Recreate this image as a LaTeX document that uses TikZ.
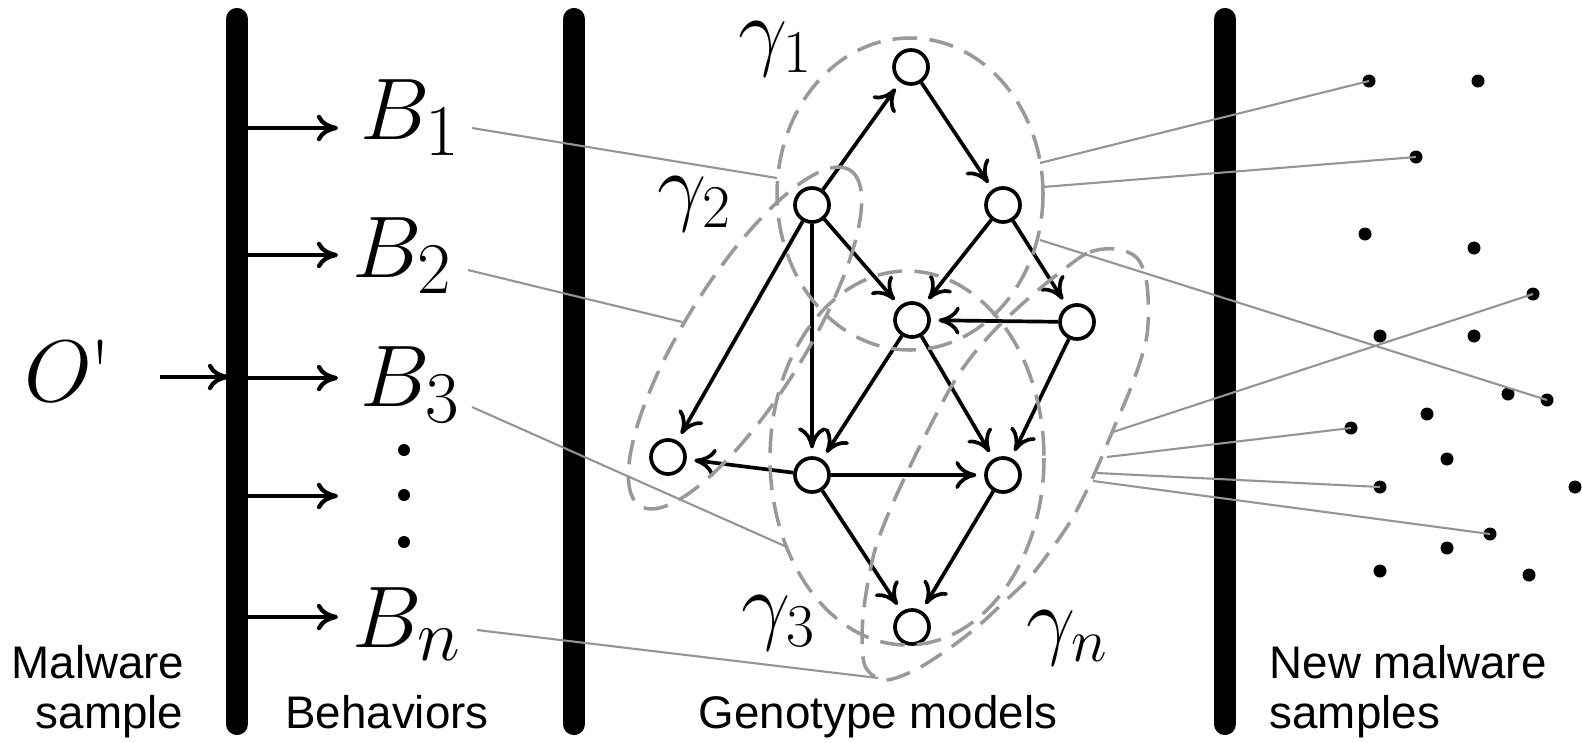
\documentclass[tikz,border=0pt]{standalone}
\usepackage{fontspec}
\newfontfamily\lsans{Liberation Sans}
\usetikzlibrary{arrows.meta}
\DeclareMathSizes{25}{25}{21}{16}
\DeclareMathSizes{24.9}{24.9}{18}{14}
\tikzset{
  vtx/.style={circle, draw, line width=1.05pt, minimum size=0.34cm, inner sep=0pt},
  edge/.style={line width=1.05pt, -{Computer Modern Rightarrow[length=6pt,width=8pt]}, shorten >=2.2pt},
  barline/.style={line width=6.3pt, line cap=round},
  inarrow/.style={line width=1.2pt, -{Computer Modern Rightarrow[length=6pt,width=7.5pt]}},
  glink/.style={draw=black!42, line width=0.6pt},
  group/.style={draw=black!40, line width=1.0pt, dash pattern=on 7pt off 3.5pt},
  sdot/.style={circle, fill, inner sep=0pt, minimum size=0.13cm},
  vdot/.style={circle, fill, inner sep=0pt, minimum size=0.12cm},
  mlab/.style={inner sep=0pt, font=\fontsize{25}{30}\selectfont},
  glab/.style={inner sep=0pt, font=\fontsize{24.9}{30}\selectfont},
  tlab/.style={inner sep=0pt, font=\lsans\fontsize{13}{15}\selectfont},
}
\begin{document}
\begin{tikzpicture}[x=0.01cm,y=-0.01cm]
\useasboundingbox (0,0) rectangle (1582,742);

% bars
\draw[barline] (237,19) -- (237,724);
\draw[barline] (574,19) -- (574,724);
\draw[barline] (1225,19) -- (1225,724);

% left part
\node[mlab, anchor=base west] (O) at (24,401) {$O$\kern-0.8pt\textquotesingle};
\coordinate (oa) at (160,377);
\coordinate (ob) at (229,377);
\draw[inarrow] (oa) -- (ob);

\foreach \i/\y in {1/128,2/255,3/378,4/496,5/617}{
  \coordinate (s\i) at (248,\y);
  \coordinate (t\i) at (338,\y);
  \draw[inarrow] (s\i) -- (t\i);
}
\node[mlab, anchor=base west] (B1) at (360,139) {$B_1$};
\node[mlab, anchor=base west] (B2) at (352,277) {$B_2$};
\node[mlab, anchor=base west] (B3) at (360,406) {$B_3$};
\node[mlab, anchor=base west] (Bn) at (352,647) {$B_n$};
\node[vdot] (v1) at (404,450) {};
\node[vdot] (v2) at (404,495) {};
\node[vdot] (v3) at (404,542) {};

% graph nodes
\node[vtx] (n1) at (911,67) {};
\node[vtx] (n2) at (1003,205) {};
\node[vtx] (n3) at (812,205) {};
\node[vtx] (n4) at (912,320) {};
\node[vtx] (n5) at (1077,322) {};
\node[vtx] (n6) at (668,457) {};
\node[vtx] (n7) at (812,475) {};
\node[vtx] (n8) at (1003,475) {};
\node[vtx] (n9) at (912,627) {};

\draw[edge] (n3) -- (n1);
\draw[edge] (n1) -- (n2);
\draw[edge] (n3) -- (n4);
\draw[edge] (n3) -- (n6);
\draw[edge] (n3) -- (n7);
\draw[edge] (n2) -- (n4);
\draw[edge] (n2) -- (n5);
\draw[edge] (n5) -- (n4);
\draw[edge] (n4) -- (n7);
\draw[edge] (n4) -- (n8);
\draw[edge] (n5) -- (n8);
\draw[edge] (n7) -- (n6);
\draw[edge] (n7) -- (n8);
\draw[edge] (n7) -- (n9);
\draw[edge] (n8) -- (n9);

% genotype groups
\draw[group] (910,194) ellipse (133 and 156);
\draw[group, rotate around={58:(745,338)}] (745,338) ellipse (198 and 60);
\draw[group] (907,458) ellipse (137 and 187);
\draw[group] plot[smooth cycle, tension=0.55] coordinates {
 (1067,267) (1090,252) (1115,249) (1137,258) (1147,285) (1147,335) (1133,382)
 (1113,430) (1093,477) (1073,517) (1053,547) (1030,577) (1003,603) (977,627)
 (947,650) (915,670) (885,680) (866,668) (862,640) (865,600) (875,550)
 (893,503) (923,440) (957,377) (990,335) (1030,297)};

\node[glab, anchor=base west] (G1) at (738,59) {$\gamma_1$};
\node[glab, anchor=base west] (G2) at (657,214) {$\gamma_2$};
\node[glab, anchor=base west] (G3) at (741,633) {$\gamma_3$};
\node[glab, anchor=base west] (Gn) at (1026,648) {$\gamma_n$};

% links from behaviours to models
\coordinate (b1e) at (472,128);
\coordinate (b2e) at (468,270);
\coordinate (b3e) at (472,407);
\coordinate (bne) at (477,630);
\coordinate (g1a) at (777,178);
\coordinate (g2a) at (682,322);
\coordinate (g3a) at (787,547);
\coordinate (gna) at (878,678);
\draw[glink] (b1e) -- (g1a);
\draw[glink] (b2e) -- (g2a);
\draw[glink] (b3e) -- (g3a);
\draw[glink] (bne) -- (gna);

% new samples
\node[sdot] (d1) at (1369,81) {};
\node[sdot] (d2) at (1478,81) {};
\node[sdot] (d3) at (1416,157) {};
\node[sdot] (d4) at (1365,234) {};
\node[sdot] (d5) at (1474,248) {};
\node[sdot] (d6) at (1533,294) {};
\node[sdot] (d7) at (1380,336) {};
\node[sdot] (d8) at (1474,336) {};
\node[sdot] (d9) at (1508,394) {};
\node[sdot] (d10) at (1547,400) {};
\node[sdot] (d11) at (1427,414) {};
\node[sdot] (d12) at (1351,428) {};
\node[sdot] (d13) at (1447,459) {};
\node[sdot] (d14) at (1380,487) {};
\node[sdot] (d15) at (1575,487) {};
\node[sdot] (d16) at (1490,534) {};
\node[sdot] (d17) at (1447,548) {};
\node[sdot] (d18) at (1380,571) {};
\node[sdot] (d19) at (1529,575) {};

\coordinate (r1) at (1040,163);
\coordinate (r2) at (1043,187);
\coordinate (r3) at (1040,240);
\coordinate (r4) at (1113,432);
\coordinate (r5) at (1107,457);
\coordinate (r6) at (1097,473);
\coordinate (r7) at (1093,481);
\draw[glink] (r1) -- (d1.center);
\draw[glink] (r2) -- (d3.center);
\draw[glink] (r3) -- (d10.center);
\draw[glink] (r4) -- (d6.center);
\draw[glink] (r5) -- (d12.center);
\draw[glink] (r6) -- (d14.center);
\draw[glink] (r7) -- (d16.center);

% captions
\node[tlab, anchor=base east] (ms1) at (185,678) {Malware};
\node[tlab, anchor=base east] (ms2) at (184,728) {sample};
\node[tlab, anchor=base] (bh) at (387,728) {Behaviors};
\node[tlab, anchor=base] (gm) at (878,728) {Genotype models};
\node[tlab, anchor=base west] (nm1) at (1269,678) {New malware};
\node[tlab, anchor=base west] (nm2) at (1269,728) {samples};
\end{tikzpicture}
\end{document}
